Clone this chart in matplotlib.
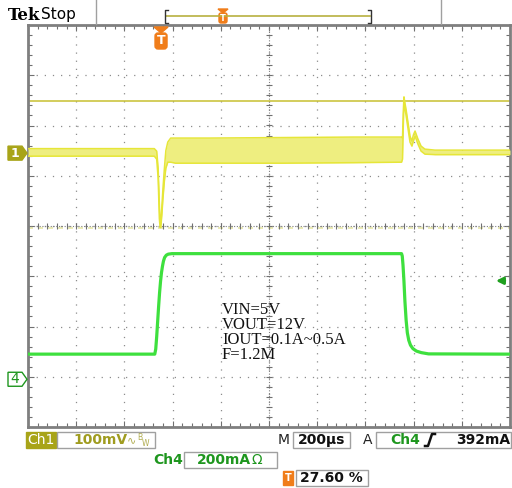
import matplotlib
matplotlib.use('Agg')
import matplotlib.pyplot as plt
from matplotlib.patches import Rectangle, Polygon, FancyBboxPatch
from matplotlib.transforms import blended_transform_factory
import numpy as np

# scope settings
time_per_div = 200      # us/div
trig_pct = 27.60        # trigger position, % of record
ch1_scale = 100         # mV/div
ch4_scale = 200         # mA/div
ch1_pos = 1.45          # div from centre
ch4_pos = -3.05
trig_level = 392        # mA
ch1_cursor = 104        # mV

# Ch1 ripple envelope (mV), times in us from trigger
ch1_t = [-552, -28, -18, -12, -7, -4, -1, 3, 8, 14, 20, 28, 40, 60, 200, 500, 800, 998,
         1002, 1005, 1008, 1012, 1017, 1025, 1033, 1041, 1047, 1054, 1060, 1066, 1079, 1095, 1137, 1448]
ch1_hi = [9, 9, 4, -30, -100, -138, -140, -110, -70, -30, 5, 22, 30, 30, 30, 31, 32, 32,
          30, 80, 112, 100, 86, 60, 34, 24, 36, 44, 36, 28, 14, 8, 6, 6]
ch1_lo = [-6, -6, -12, -50, -130, -148, -148, -125, -90, -55, -30, -18, -18, -20, -20, -20, -19, -18,
          -12, 50, 98, 90, 74, 48, 22, 14, 24, 34, 26, 18, 4, -2, -3, -3]

# Ch4 load current (mA)
ch4_t = [-552, -26, -22, -18, -14, -10, -6, -2, 2, 6, 10, 15, 22, 30, 45, 998,
         1001, 1004, 1008, 1012, 1017, 1022, 1028, 1035, 1045, 1060, 1080, 1110, 1448]
ch4_ma = [100, 100, 120, 170, 230, 290, 345, 390, 425, 450, 470, 485, 494, 498, 500, 500,
          490, 455, 390, 310, 235, 185, 155, 136, 122, 112, 106, 101, 100]

notes = ['VIN=5V', 'VOUT=12V', 'IOUT=0.1A~0.5A', 'F=1.2M']

YEL = '#e6e638'
YEL_FILL = '#eeee80'
OLIVE = '#a8a418'
GREEN = '#3ee03e'
DGREEN = '#1e961e'
ORANGE = '#f07d1a'
BOXC = '#a0a0a0'

W, H = 512, 488
L, R, T, B = 28, 510, 25, 427
fig = plt.figure(figsize=(W / 100, H / 100), dpi=100)
ax = fig.add_axes([L / W, 1 - B / H, (R - L) / W, (B - T) / H])

t_start = -trig_pct / 100 * 10 * time_per_div
t_end = t_start + 10 * time_per_div
ax.set_xlim(t_start, t_end)
ax.set_ylim(-4, 4)

# graticule
ax.set_xticks(np.arange(t_start, t_end + 1, time_per_div))
ax.set_yticks(np.arange(-4, 5, 1))
ax.set_xticks(np.arange(t_start, t_end + 1, time_per_div / 5), minor=True)
ax.set_yticks(np.arange(-4, 4.01, 0.2), minor=True)
ax.set_xticklabels([])
ax.set_yticklabels([])
ax.tick_params(which='both', direction='in', top=True, right=True, color='#707070', width=0.8)
ax.tick_params(which='major', length=4)
ax.tick_params(which='minor', length=3)
ax.grid(True, color='#8c8c8c', ls=(0, (1, 5.5)), lw=0.9)
for s in ax.spines.values():
    s.set_color('#7f7f7f')
    s.set_linewidth(2)

t_mid = t_start + 5 * time_per_div
ax.axhline(-0.03, color='#e8e8a8', ls=(0, (3, 3)), lw=1.2, zorder=1)
ax.axvline(t_mid, color='#808080', ls=(0, (1, 1.5)), lw=0.8)
ax.axhline(0, color='#808080', ls=(0, (1, 1.5)), lw=0.8)
mx = np.arange(t_start, t_end + 1, time_per_div / 5)
my = np.arange(-4, 4.01, 0.2)
ax.plot(mx, np.zeros_like(mx), ls='none', marker='|', ms=5, mew=0.8, color='#707070')
ax.plot(np.full_like(my, t_mid), my, ls='none', marker='_', ms=5, mew=0.8, color='#707070')

# cursor line
ax.axhline(ch1_pos + ch1_cursor / ch1_scale, color='#c8c030', lw=1.1, zorder=2)

# Ch1 trace
hi = np.array(ch1_hi) / ch1_scale + ch1_pos
lo = np.array(ch1_lo) / ch1_scale + ch1_pos
ax.fill_between(ch1_t, lo, hi, color=YEL_FILL, lw=0, zorder=3)
ax.plot(ch1_t, hi, color=YEL, lw=1.1, zorder=3)
ax.plot(ch1_t, lo, color=YEL, lw=1.1, zorder=3)

# Ch4 trace
ax.plot(ch4_t, np.array(ch4_ma) / ch4_scale + ch4_pos, color=GREEN, lw=2.3, zorder=4)

# trigger level arrow
bt = blended_transform_factory(ax.transAxes, ax.transData)
ya = ch4_pos + trig_level / ch4_scale
ax.annotate('', xy=(0.965, ya), xytext=(0.995, ya), xycoords=bt, textcoords=bt,
            arrowprops=dict(arrowstyle='-|>', color='#20a020', lw=2, mutation_scale=10))

for i, s in enumerate(notes):
    fig.text(222 / W, 1 - (310 + 15 * i) / H, s, family='Liberation Serif', fontsize=12,
             va='center', ha='left', color='#111111')

# overlay in pixel coordinates
ov = fig.add_axes([0, 0, 1, 1], zorder=5)
ov.set_xlim(0, W)
ov.set_ylim(H, 0)
ov.axis('off')
ov.patch.set_visible(False)

def px_y(pos):
    return (T + B) / 2 - pos * (B - T) / 8

# header
ov.text(8, 16, 'Tek', family='DejaVu Serif', fontweight='bold', fontsize=12, va='center', ha='left')
ov.text(41, 15, 'Stop', family='DejaVu Sans', fontsize=11, va='center', ha='left')
ov.plot([96, 96], [0, 24], color='#a0a0a0', lw=1)
ov.plot([441, 441], [0, 24], color='#a0a0a0', lw=1)
ov.plot([166, 370], [16, 16], color='#b8b040', lw=1.2)
ov.plot([168, 165, 165, 168], [10, 10, 23, 23], color='#333333', lw=1)
ov.plot([368, 371, 371, 368], [10, 10, 23, 23], color='#333333', lw=1)
ov.add_patch(Polygon([(218, 9), (228, 9), (223, 13)], color=ORANGE))
ov.add_patch(FancyBboxPatch((219, 13), 8, 10, boxstyle='round,pad=0,rounding_size=2', color=ORANGE))
ov.text(223, 18.5, 'T', color='white', fontsize=6, fontweight='bold', ha='center', va='center')

# trigger marker
xt = L + trig_pct / 100 * (R - L)
ov.add_patch(Polygon([(xt - 7, 27), (xt + 7, 27), (xt, 33)], color=ORANGE))
ov.add_patch(FancyBboxPatch((xt - 6, 33), 12, 16, boxstyle='round,pad=0,rounding_size=3', color=ORANGE))
ov.text(xt, 41, 'T', color='white', fontsize=9, fontweight='bold', ha='center', va='center')

# channel markers
y1 = px_y(ch1_pos)
ov.add_patch(Polygon([(8, y1 - 7), (22, y1 - 7), (27, y1), (22, y1 + 7), (8, y1 + 7)], color=OLIVE))
ov.text(15, y1, '1', color='white', fontsize=9, fontweight='bold', ha='center', va='center')
y4 = px_y(ch4_pos)
ov.add_patch(Polygon([(8, y4 - 7), (22, y4 - 7), (27, y4), (22, y4 + 7), (8, y4 + 7)],
                     facecolor='white', edgecolor=DGREEN, lw=1))
ov.text(15, y4, '4', color=DGREEN, fontsize=10, ha='center', va='center')

# readouts
fs = 10
ov.add_patch(Rectangle((26, 432), 30, 16, color=OLIVE))
ov.text(41, 440, 'Ch1', color='white', fontsize=fs, ha='center', va='center')
ov.add_patch(Rectangle((57, 432), 98, 16, fill=False, edgecolor=BOXC, lw=1))
ov.text(73, 440, '100mV', color='#a09c20', fontsize=fs, fontweight='bold', ha='left', va='center')
ov.text(127, 440, '∿', color='#b0ac50', fontsize=8, ha='left', va='center')
ov.text(137, 437, 'B', color='#b0ac50', fontsize=5.5, ha='left', va='center')
ov.text(142, 443, 'W', color='#b0ac50', fontsize=5.5, ha='left', va='center')

ov.text(284, 440, 'M', color='#222222', fontsize=fs, ha='center', va='center')
ov.add_patch(Rectangle((293, 432), 57, 16, fill=False, edgecolor=BOXC, lw=1))
ov.text(322, 440, '200µs', color='#111111', fontsize=fs, fontweight='bold', ha='center', va='center')

ov.text(368, 440, 'A', color='#222222', fontsize=fs, ha='center', va='center')
ov.add_patch(Rectangle((376, 432), 135, 16, fill=False, edgecolor=BOXC, lw=1))
ov.text(390, 440, 'Ch4', color=DGREEN, fontsize=fs, fontweight='bold', ha='left', va='center')
ov.plot([425, 428, 432, 435], [446, 446, 434, 434], color='#111111', lw=1.8)
ov.text(510, 440, '392mA', color='#111111', fontsize=fs, fontweight='bold', ha='right', va='center')

ov.text(168, 460, 'Ch4', color=DGREEN, fontsize=fs, fontweight='bold', ha='center', va='center')
ov.add_patch(Rectangle((184, 452), 93, 16, fill=False, edgecolor=BOXC, lw=1))
ov.text(197, 460, '200mA', color=DGREEN, fontsize=fs, fontweight='bold', ha='left', va='center')
ov.text(252, 460, 'Ω', color=DGREEN, fontsize=fs, ha='left', va='center')

ov.add_patch(Rectangle((283, 471), 10, 14, color=ORANGE))
ov.text(288, 478, 'T', color='white', fontsize=7, fontweight='bold', ha='center', va='center')
ov.add_patch(Rectangle((296, 470), 72, 16, fill=False, edgecolor=BOXC, lw=1))
ov.text(300, 478, '27.60 %', color='#111111', fontsize=fs, fontweight='bold', ha='left', va='center')

fig.savefig('out.png', dpi=100)
